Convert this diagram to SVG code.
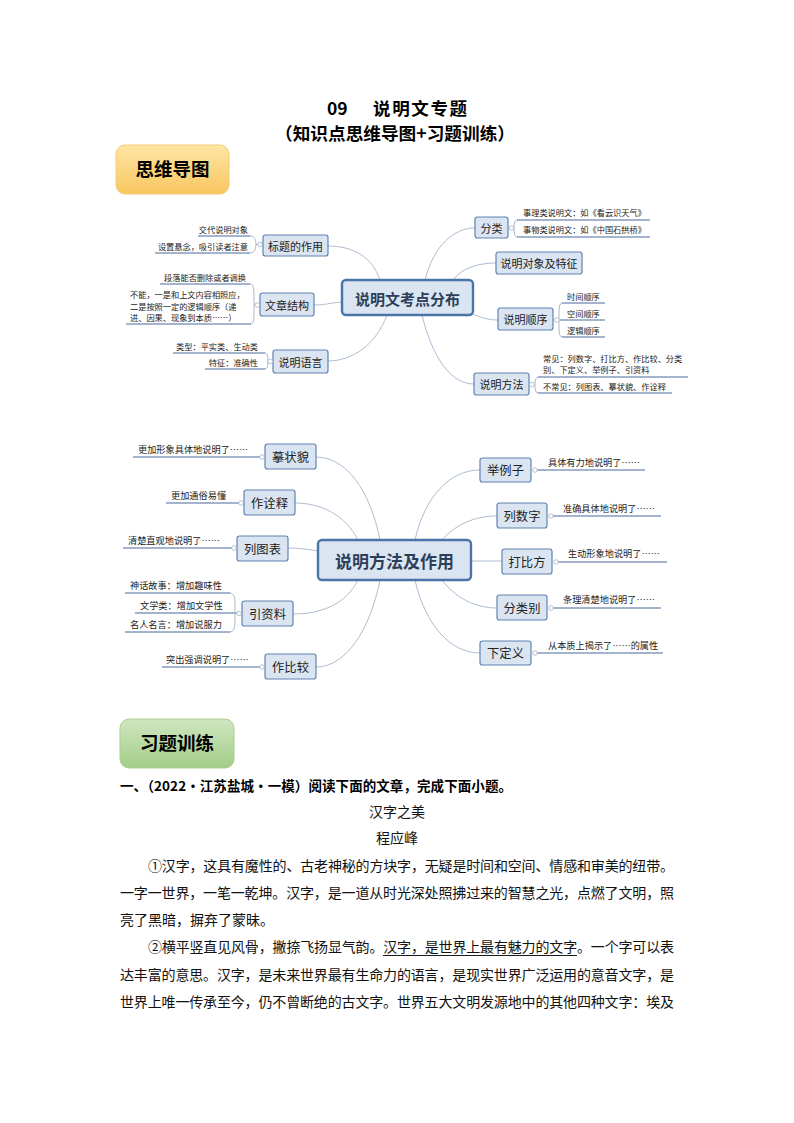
<svg xmlns="http://www.w3.org/2000/svg" width="794" height="1123" viewBox="0 0 794 1123">
<defs>
<linearGradient id="gy" x1="0" y1="0" x2="0" y2="1"><stop offset="0" stop-color="#fee6a4"/><stop offset="1" stop-color="#f8c660"/></linearGradient>
<linearGradient id="gg" x1="0" y1="0" x2="0" y2="1"><stop offset="0" stop-color="#cfe6c0"/><stop offset="1" stop-color="#a3cd88"/></linearGradient>
<style>
.f{font-family:"Noto Sans CJK SC","Noto Sans",sans-serif}
.node rect{fill:#dbe5f1;stroke:#5f83b2;stroke-width:1.2}
.center rect{fill:#dbe5f1;stroke:#4b74a8;stroke-width:2.4}
.nt{font-family:"Noto Sans CJK SC",sans-serif;font-size:11px;fill:#222;text-anchor:middle;dominant-baseline:central}
.nt2{font-family:"Noto Sans CJK SC",sans-serif;font-size:12.3px;fill:#222;text-anchor:middle;dominant-baseline:central}
.ct{font-family:"Noto Sans CJK SC",sans-serif;font-weight:700;fill:#2c3f5a;text-anchor:middle;dominant-baseline:central}
.s{font-family:"Noto Sans CJK SC",sans-serif;font-size:8.2px;fill:#222}
.s2{font-family:"Noto Sans CJK SC",sans-serif;font-size:9.2px;fill:#222}
.e{text-anchor:end}
.ul{stroke:#4a6b9e;stroke-width:1.1;fill:none}
.br{stroke:#a9b8cc;stroke-width:1;fill:none}
.conn path{stroke:#aebdd1;stroke-width:1;fill:none}
.dot{fill:#fff;stroke:#a3b2c8;stroke-width:0.8}
.b{font-family:"Noto Sans CJK SC",sans-serif;font-size:14px;fill:#111}
.hb{font-family:"Noto Sans CJK SC",sans-serif;font-weight:700;fill:#000}
</style>
</defs>
<rect width="794" height="1123" fill="#fff"/>

<g id="title">
<text class="hb" x="327" y="115" font-size="17.5">09</text>
<text class="hb" x="373" y="115" font-size="17.5" textLength="94">说明文专题</text>
<text class="hb" x="275" y="139.5" font-size="17.5" textLength="240" lengthAdjust="spacingAndGlyphs">（知识点思维导图+习题训练）</text>
</g>

<g id="box-mindmap">
<rect x="116" y="145" width="113" height="49" rx="9" fill="url(#gy)" stroke="#f2cc78" stroke-width="1"/>
<text class="hb" x="172.5" y="176" font-size="18.5" text-anchor="middle">思维导图</text>
</g>

<g class="conn" id="connectors">
<path d="M380,280 C372,256 352,246 328,246"/>
<path d="M342,302 C330,303 325,305 314,305"/>
<path d="M387,315 C376,345 352,361 328,361"/>
<path d="M425,280 C434,245 454,228 475,228"/>
<path d="M453,280 C462,268 478,263 496,263"/>
<path d="M471,313 C481,318 489,320 498,320"/>
<path d="M422,315 C432,356 450,384 474,384"/>
<path d="M380,540 C370,490 346,457 316,457"/>
<path d="M358,540 C346,516 322,503 295,503"/>
<path d="M318,551 C306,549 298,548 288,548"/>
<path d="M358,580 C346,604 322,614 293,614"/>
<path d="M380,580 C370,630 346,667 316,667"/>
<path d="M415,540 C425,496 450,470 480,470"/>
<path d="M442,540 C455,525 474,516 497,516"/>
<path d="M471,561 L502,561"/>
<path d="M442,580 C455,597 474,608 497,608"/>
<path d="M415,580 C425,624 450,653 480,653"/>
</g>

<!-- Map 1 -->
<g id="center1" class="center">
<rect x="342" y="280" width="131" height="35" rx="4"/>
<text class="ct" x="407.5" y="298" font-size="15">说明文考点分布</text>
</g>

<g id="n-biaoti" class="node">
<rect x="263" y="235" width="65" height="21" rx="2.5"/>
<text class="nt" x="295.5" y="245.5">标题的作用</text>
<path class="ul" d="M198,236 H250 M155,253 H250"/>
<path class="br" d="M250,236 Q256,236 256,244.5 Q256,253 250,253 M256,244.5 H258"/>
<circle class="dot" cx="260" cy="244.5" r="2.3"/>
<text class="s e" x="248" y="233">交代说明对象</text>
<text class="s e" x="248" y="250">设置悬念，吸引读者注意</text>
</g>

<g id="n-wenzhang" class="node">
<rect x="260" y="293" width="54" height="23" rx="2.5"/>
<text class="nt" x="287" y="304.5">文章结构</text>
<path class="ul" d="M160,284 H250 M126,324 H251"/>
<path class="br" d="M250,284 Q254,284 254,294 V314 Q254,324 251,324 M254,305 H255"/>
<circle class="dot" cx="257.3" cy="305" r="2.3"/>
<text class="s e" x="246" y="281">段落能否删除或者调换</text>
<text class="s" x="130" y="298">不能，一是和上文内容相照应，</text>
<text class="s" x="130" y="310">二是按照一定的逻辑顺序（递</text>
<text class="s" x="130" y="321">进、因果、现象到本质……）</text>
</g>

<g id="n-yuyan" class="node">
<rect x="273" y="350" width="55" height="23" rx="2.5"/>
<text class="nt" x="300.5" y="361.5">说明语言</text>
<path class="ul" d="M173,353 H265 M205,369 H265"/>
<path class="br" d="M265,353 Q268,353 268,361 Q268,369 265,369"/>
<circle class="dot" cx="270.3" cy="361.5" r="2.3"/>
<text class="s e" x="258" y="350">类型：平实类、生动类</text>
<text class="s e" x="258" y="366">特征：准确性</text>
</g>

<g id="n-fenlei" class="node">
<rect x="475" y="217" width="33" height="21" rx="2.5"/>
<text class="nt" x="491.5" y="227.5">分类</text>
<path class="ul" d="M517,220 H650 M517,237 H650"/>
<path class="br" d="M517,220 Q514,220 514,228 Q514,237 517,237"/>
<circle class="dot" cx="511.5" cy="228" r="2.3"/>
<text class="s" x="523" y="216">事理类说明文：如《看云识天气》</text>
<text class="s" x="523" y="233">事物类说明文：如《中国石拱桥》</text>
</g>

<g id="n-duixiang" class="node">
<rect x="496" y="252" width="86" height="22" rx="2.5"/>
<text class="nt" x="539" y="263">说明对象及特征</text>
</g>

<g id="n-shunxu" class="node">
<rect x="498" y="308" width="55" height="22" rx="2.5"/>
<text class="nt" x="525.5" y="319">说明顺序</text>
<path class="ul" d="M562,303 H605 M560,320 H605 M562,337 H605"/>
<path class="br" d="M562,303 Q559,303 559,312 V328 Q559,337 562,337"/>
<circle class="dot" cx="557" cy="320" r="2.3"/>
<text class="s" x="567" y="300">时间顺序</text>
<text class="s" x="567" y="317">空间顺序</text>
<text class="s" x="567" y="334">逻辑顺序</text>
</g>

<g id="n-fangfa" class="node">
<rect x="474" y="373" width="55" height="22" rx="2.5"/>
<text class="nt" x="501.5" y="384">说明方法</text>
<path class="ul" d="M538,377 H688 M538,393 H672"/>
<path class="br" d="M538,377 Q535,377 535,385 Q535,393 538,393"/>
<circle class="dot" cx="532" cy="384.5" r="2.3"/>
<text class="s" x="543" y="362">常见：列数字、打比方、作比较、分类</text>
<text class="s" x="543" y="373">别、下定义、举例子、引资料</text>
<text class="s" x="543" y="390">不常见：列图表、摹状貌、作诠释</text>
</g>

<!-- Map 2 -->
<g id="center2" class="center">
<rect x="318" y="540" width="153" height="40" rx="4"/>
<text class="ct" x="394.5" y="560" font-size="17">说明方法及作用</text>
</g>

<g id="n-mozhuang" class="node">
<rect x="265" y="444" width="51" height="25" rx="2.5"/>
<text class="nt2" x="290.5" y="456.5">摹状貌</text>
<path class="ul" d="M133,457 H260"/>
<circle class="dot" cx="262" cy="457" r="2.3"/>
<text class="s2" x="138" y="453">更加形象具体地说明了……</text>
</g>

<g id="n-quanshi" class="node">
<rect x="244" y="490" width="51" height="25" rx="2.5"/>
<text class="nt2" x="269.5" y="502.5">作诠释</text>
<path class="ul" d="M166,503 H239"/>
<circle class="dot" cx="241" cy="503" r="2.3"/>
<text class="s2" x="171" y="499">更加通俗易懂</text>
</g>

<g id="n-tubiao" class="node">
<rect x="237" y="536" width="51" height="25" rx="2.5"/>
<text class="nt2" x="262.5" y="548.5">列图表</text>
<path class="ul" d="M123,548 H232"/>
<circle class="dot" cx="234" cy="548" r="2.3"/>
<text class="s2" x="128" y="544">清楚直观地说明了……</text>
</g>

<g id="n-ziliao" class="node">
<rect x="242" y="601" width="51" height="25" rx="2.5"/>
<text class="nt2" x="267.5" y="613.5">引资料</text>
<path class="ul" d="M125,593 H230 M135,613 H237 M125,632 H230"/>
<path class="br" d="M230,593 Q235,593 235,603 V622 Q235,632 230,632"/>
<circle class="dot" cx="239" cy="613.5" r="2.3"/>
<text class="s2" x="130" y="589">神话故事：增加趣味性</text>
<text class="s2" x="140" y="609">文学类：增加文学性</text>
<text class="s2" x="130" y="628">名人名言：增加说服力</text>
</g>

<g id="n-bijiao" class="node">
<rect x="265" y="654" width="51" height="25" rx="2.5"/>
<text class="nt2" x="290.5" y="666.5">作比较</text>
<path class="ul" d="M162,667 H260"/>
<circle class="dot" cx="262" cy="667" r="2.3"/>
<text class="s2" x="166" y="663">突出强调说明了……</text>
</g>

<g id="n-julizi" class="node">
<rect x="480" y="458" width="51" height="24" rx="2.5"/>
<text class="nt2" x="505.5" y="470">举例子</text>
<path class="ul" d="M537,470 H645"/>
<circle class="dot" cx="535" cy="470" r="2.3"/>
<text class="s2" x="548" y="466">具体有力地说明了……</text>
</g>

<g id="n-shuzi" class="node">
<rect x="497" y="503" width="50" height="25" rx="2.5"/>
<text class="nt2" x="522" y="515.5">列数字</text>
<path class="ul" d="M553,516 H661"/>
<circle class="dot" cx="551" cy="516" r="2.3"/>
<text class="s2" x="563" y="512">准确具体地说明了……</text>
</g>

<g id="n-bifang" class="node">
<rect x="502" y="549" width="50" height="25" rx="2.5"/>
<text class="nt2" x="527" y="561.5">打比方</text>
<path class="ul" d="M558,562 H667"/>
<circle class="dot" cx="556" cy="562" r="2.3"/>
<text class="s2" x="568" y="557">生动形象地说明了……</text>
</g>

<g id="n-leibie" class="node">
<rect x="497" y="595" width="50" height="25" rx="2.5"/>
<text class="nt2" x="522" y="607.5">分类别</text>
<path class="ul" d="M553,608 H661"/>
<circle class="dot" cx="551" cy="608" r="2.3"/>
<text class="s2" x="563" y="603">条理清楚地说明了……</text>
</g>

<g id="n-dingyi" class="node">
<rect x="480" y="641" width="51" height="24" rx="2.5"/>
<text class="nt2" x="505.5" y="653">下定义</text>
<path class="ul" d="M537,653 H663"/>
<circle class="dot" cx="535" cy="653" r="2.3"/>
<text class="s2" x="548" y="649">从本质上揭示了……的属性</text>
</g>

<!-- Exercises -->
<g id="box-exercise">
<rect x="120" y="719" width="114" height="49" rx="9" fill="url(#gg)" stroke="#a9cf92" stroke-width="1"/>
<text class="hb" x="177" y="750" font-size="18.5" text-anchor="middle">习题训练</text>
</g>

<g id="passage">
<text class="hb" x="120" y="791" font-size="13.5" textLength="392">一、（2022·江苏盐城·一模）阅读下面的文章，完成下面小题。</text>
<text class="b" x="397" y="817" text-anchor="middle">汉字之美</text>
<text class="b" x="397" y="843" text-anchor="middle">程应峰</text>
<text class="b" x="148" y="871" textLength="526">①汉字，这具有魔性的、古老神秘的方块字，无疑是时间和空间、情感和审美的纽带。</text>
<text class="b" x="120" y="898" textLength="554">一字一世界，一笔一乾坤。汉字，是一道从时光深处照拂过来的智慧之光，点燃了文明，照</text>
<text class="b" x="120" y="925">亮了黑暗，摒弃了蒙昧。</text>
<text class="b" x="148" y="952" textLength="526">②横平竖直见风骨，撇捺飞扬显气韵。汉字，是世界上最有魅力的文字。一个字可以表</text>
<line x1="383" y1="955.5" x2="577" y2="955.5" stroke="#000" stroke-width="0.9"/>
<text class="b" x="120" y="980" textLength="554">达丰富的意思。汉字，是未来世界最有生命力的语言，是现实世界广泛运用的意音文字，是</text>
<text class="b" x="120" y="1007" textLength="554">世界上唯一传承至今，仍不曾断绝的古文字。世界五大文明发源地中的其他四种文字：埃及</text>
</g>
</svg>
